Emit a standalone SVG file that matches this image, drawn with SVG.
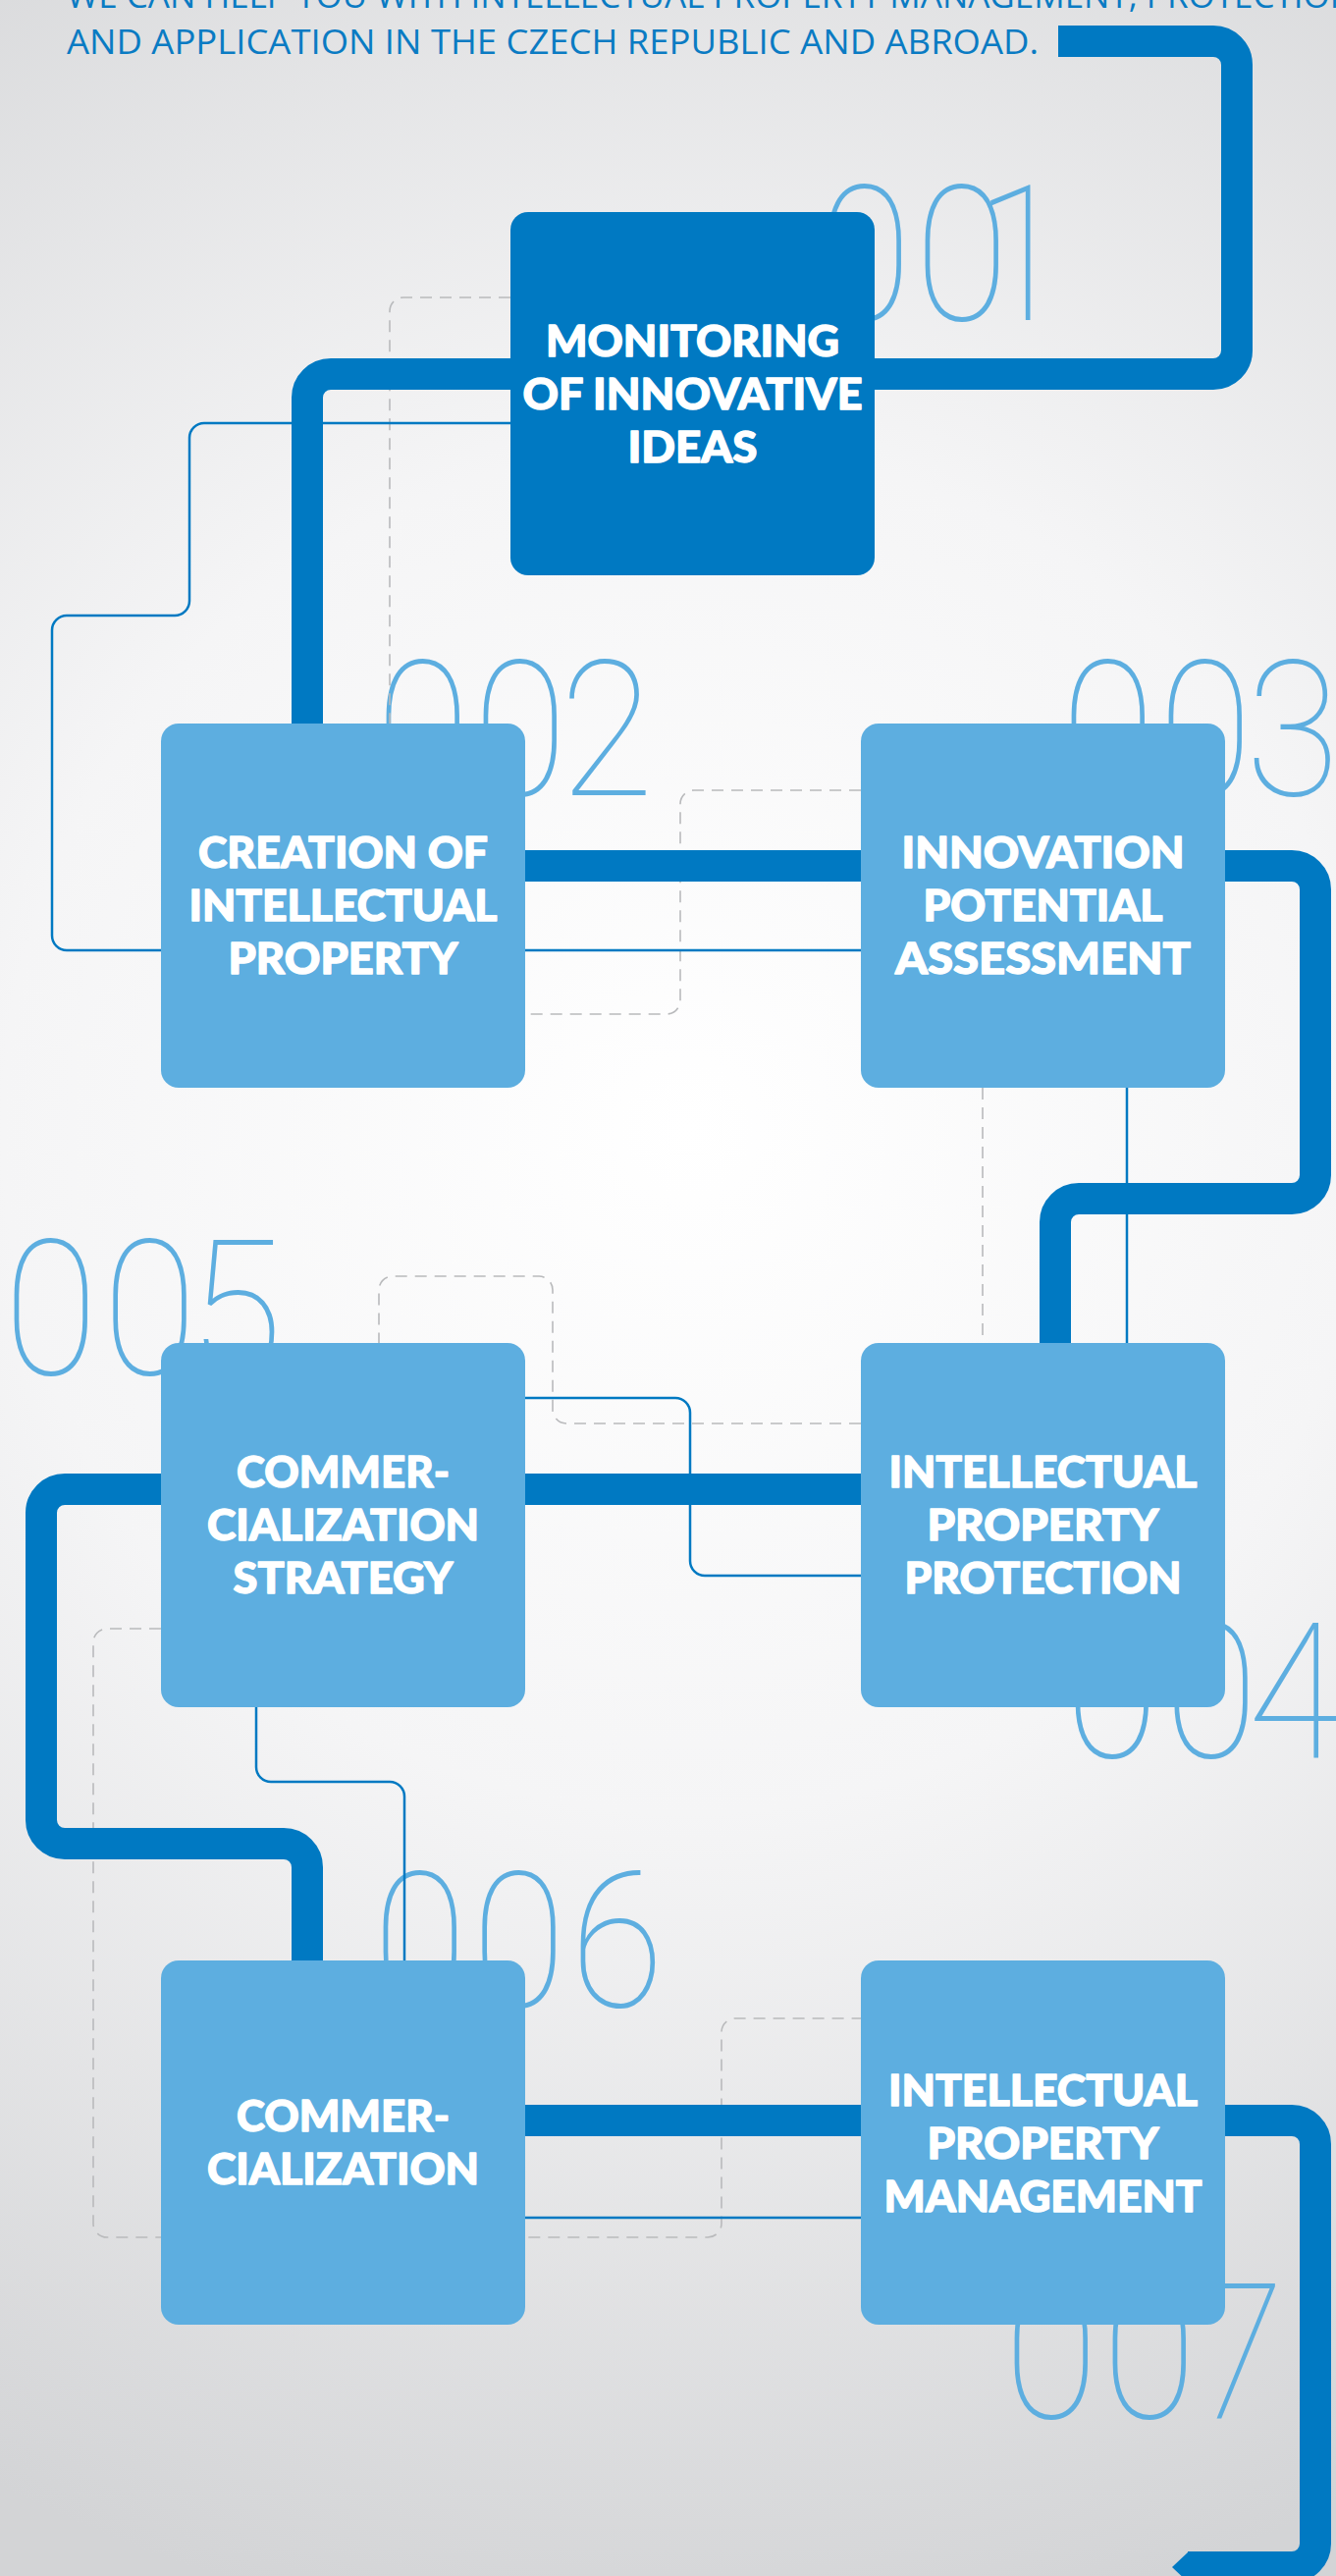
<svg xmlns="http://www.w3.org/2000/svg" width="1361" height="2624" viewBox="0 0 1361 2624">
<defs>
<radialGradient id="bg" gradientUnits="userSpaceOnUse" cx="700" cy="1150" r="1550">
<stop offset="0" stop-color="#ffffff"/>
<stop offset="0.45" stop-color="#f5f5f6"/>
<stop offset="1" stop-color="#d3d4d6"/>
</radialGradient>
<style>
.title{font-family:"Open Sans","Liberation Sans",sans-serif;font-size:35px;fill:#0a7bc3}
.num{font-family:Roboto,"Liberation Sans",sans-serif;font-weight:100;font-size:194px;fill:#5daee0}
.lab{font-family:Lato,"Liberation Sans",sans-serif;font-weight:900;font-size:43px;fill:#ffffff;stroke:#ffffff;stroke-width:1.3;stroke-linejoin:round;text-anchor:middle}
.box{fill:#5daee0}
.dark{fill:#0079c2}
.thick{fill:none;stroke:#0079c2;stroke-width:32}
.thin{fill:none;stroke:#0079c2;stroke-width:2.5}
.dash{fill:none;stroke:#b9babc;stroke-width:1.6;stroke-dasharray:12 8}
</style>
</defs>
<rect width="1361" height="2624" fill="url(#bg)"/>
<g id="title">
<text class="title" x="68" y="8" textLength="1313" lengthAdjust="spacingAndGlyphs">WE CAN HELP YOU WITH INTELLECTUAL PROPERTY MANAGEMENT, PROTECTION</text>
<text class="title" x="68" y="55" textLength="990" lengthAdjust="spacingAndGlyphs">AND APPLICATION IN THE CZECH REPUBLIC AND ABROAD.</text>
</g>
<g id="numbers">
<text class="num" transform="translate(842,326) scale(0.9,1)" x="-10 100 168" y="0">001</text>
<text class="num" transform="translate(392,810) scale(0.9,1)" x="-10 100 198" y="0">002</text>
<text class="num" transform="translate(1090,810) scale(0.9,1)" x="-10 100 199" y="0">003</text>
<text class="num" transform="translate(1094,1790) scale(0.9,1)" x="-10 102 197" y="0">004</text>
<text class="num" transform="translate(13,1400) scale(0.9,1)" x="-10 102 199" y="0">005</text>
<text class="num" transform="translate(389,2044) scale(0.9,1)" x="-10 102 213" y="0">006</text>
<text class="num" transform="translate(1032,2463) scale(0.9,1)" x="-10 101 201" y="0">007</text>
</g>
<g id="connectors">
<path class="dash" d="M520 303H411A14 14 0 0 0 397 317V737"/>
<path class="dash" d="M877 805H707A14 14 0 0 0 693 819V1019A14 14 0 0 1 679 1033H534"/>
<path class="dash" d="M1001 1108V1368"/>
<path class="dash" d="M877 1450H577A14 14 0 0 1 563 1436V1314A14 14 0 0 0 549 1300H400A14 14 0 0 0 386 1314V1368"/>
<path class="dash" d="M164 1659H109A14 14 0 0 0 95 1673V2265A14 14 0 0 0 109 2279H721A14 14 0 0 0 735 2265V2070A14 14 0 0 1 749 2056H877"/>
<path class="thin" d="M520 431H208A15 15 0 0 0 193 446V612A15 15 0 0 1 178 627H68A15 15 0 0 0 53 642V953A15 15 0 0 0 68 968H877"/>
<path class="thin" d="M1148 1108V1368"/>
<path class="thin" d="M534 1424H688A15 15 0 0 1 703 1439V1590A15 15 0 0 0 718 1605H877"/>
<path class="thin" d="M261 1738V1800A15 15 0 0 0 276 1815H397A15 15 0 0 1 412 1830V1997"/>
<path class="thin" d="M534 2259H877"/>
<path class="thick" d="M1078 42H1236A24 24 0 0 1 1260 66V357A24 24 0 0 1 1236 381H337A24 24 0 0 0 313 405V882H1316A24 24 0 0 1 1340 906V1197A24 24 0 0 1 1316 1221H1099A24 24 0 0 0 1075 1245V1517H66A24 24 0 0 0 42 1541V1854A24 24 0 0 0 66 1878H289A24 24 0 0 1 313 1902V2160H1316A24 24 0 0 1 1340 2184V2591A24 24 0 0 1 1316 2615H1210"/>
<polygon class="dark" points="1211,2599 1194,2615 1211,2631"/>
</g>
<g id="node1">
<rect class="dark" x="520" y="216" width="371" height="370" rx="18"/>
<text class="lab" x="705.5" y="362.5" textLength="299" lengthAdjust="spacingAndGlyphs">MONITORING</text>
<text class="lab" x="705.5" y="416.5" textLength="346" lengthAdjust="spacingAndGlyphs">OF INNOVATIVE</text>
<text class="lab" x="705.5" y="470.5" textLength="132" lengthAdjust="spacingAndGlyphs">IDEAS</text>
</g>
<g id="node2">
<rect class="box" x="164" y="737" width="371" height="371" rx="18"/>
<text class="lab" x="349.5" y="884" textLength="295" lengthAdjust="spacingAndGlyphs">CREATION OF</text>
<text class="lab" x="349.5" y="938" textLength="314" lengthAdjust="spacingAndGlyphs">INTELLECTUAL</text>
<text class="lab" x="349.5" y="992" textLength="234" lengthAdjust="spacingAndGlyphs">PROPERTY</text>
</g>
<g id="node3">
<rect class="box" x="877" y="737" width="371" height="371" rx="18"/>
<text class="lab" x="1062.5" y="884" textLength="288" lengthAdjust="spacingAndGlyphs">INNOVATION</text>
<text class="lab" x="1062.5" y="938" textLength="244" lengthAdjust="spacingAndGlyphs">POTENTIAL</text>
<text class="lab" x="1062.5" y="992" textLength="301" lengthAdjust="spacingAndGlyphs">ASSESSMENT</text>
</g>
<g id="node4">
<rect class="box" x="877" y="1368" width="371" height="371" rx="18"/>
<text class="lab" x="1062.5" y="1515" textLength="314" lengthAdjust="spacingAndGlyphs">INTELLECTUAL</text>
<text class="lab" x="1062.5" y="1569" textLength="236" lengthAdjust="spacingAndGlyphs">PROPERTY</text>
<text class="lab" x="1062.5" y="1623" textLength="282" lengthAdjust="spacingAndGlyphs">PROTECTION</text>
</g>
<g id="node5">
<rect class="box" x="164" y="1368" width="371" height="371" rx="18"/>
<text class="lab" x="349.5" y="1515" textLength="217" lengthAdjust="spacingAndGlyphs">COMMER-</text>
<text class="lab" x="349.5" y="1569" textLength="277" lengthAdjust="spacingAndGlyphs">CIALIZATION</text>
<text class="lab" x="349.5" y="1623" textLength="224" lengthAdjust="spacingAndGlyphs">STRATEGY</text>
</g>
<g id="node6">
<rect class="box" x="164" y="1997" width="371" height="371" rx="18"/>
<text class="lab" x="349.5" y="2171" textLength="217" lengthAdjust="spacingAndGlyphs">COMMER-</text>
<text class="lab" x="349.5" y="2225" textLength="277" lengthAdjust="spacingAndGlyphs">CIALIZATION</text>
</g>
<g id="node7">
<rect class="box" x="877" y="1997" width="371" height="371" rx="18"/>
<text class="lab" x="1062.5" y="2145" textLength="315" lengthAdjust="spacingAndGlyphs">INTELLECTUAL</text>
<text class="lab" x="1062.5" y="2199" textLength="236" lengthAdjust="spacingAndGlyphs">PROPERTY</text>
<text class="lab" x="1062.5" y="2253" textLength="324" lengthAdjust="spacingAndGlyphs">MANAGEMENT</text>
</g>
</svg>
